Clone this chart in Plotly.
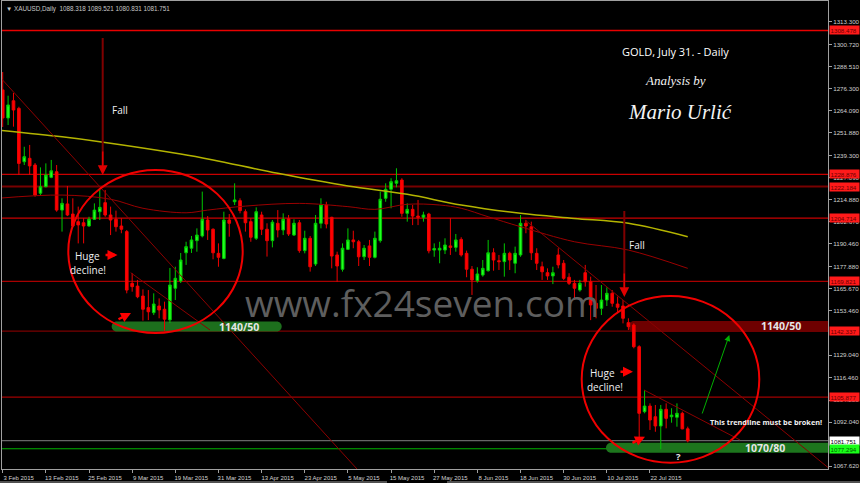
import plotly.graph_objects as go

# ---------------- data ----------------
tick_idx = [0, 8, 16, 24, 32, 40, 48, 56, 64, 72, 80, 88, 96, 104, 112, 120]
tick_labels = ["3 Feb 2015", "13 Feb 2015", "25 Feb 2015", "9 Mar 2015", "19 Mar 2015",
               "31 Mar 2015", "13 Apr 2015", "23 Apr 2015", "5 May 2015", "15 May 2015",
               "27 May 2015", "8 Jun 2015", "18 Jun 2015", "30 Jun 2015", "10 Jul 2015",
               "22 Jul 2015"]

opens = [1275.6, 1260.1, 1269.6, 1265.4, 1235.9, 1237.8, 1234.1, 1218.5, 1222.1, 1227.3,
         1230.4, 1209.2, 1212.6, 1207.0, 1202.8, 1202.2, 1200.4, 1204.1, 1208.3, 1213.3,
         1206.5, 1204.1, 1200.4, 1197.3, 1168.7, 1167.2, 1161.7, 1155.3, 1152.5, 1156.2,
         1154.4, 1148.5, 1166.0, 1170.0, 1185.6, 1188.1, 1192.3, 1194.9, 1203.7, 1198.6,
         1185.3, 1182.5, 1203.7, 1213.8, 1214.4, 1208.3, 1202.8, 1193.6, 1206.5, 1198.6,
         1192.3, 1201.9, 1198.2, 1204.4, 1195.4, 1202.2, 1186.8, 1193.6, 1179.4, 1201.9,
         1212.0, 1205.2, 1184.4, 1176.5, 1187.5, 1192.7, 1191.7, 1183.4, 1189.4, 1183.1,
         1192.3, 1215.7, 1220.7, 1224.0, 1225.8, 1207.4, 1209.6, 1205.9, 1205.2, 1207.0,
         1187.1, 1187.1, 1187.1, 1189.4, 1188.6, 1193.0, 1185.3, 1176.5, 1170.2, 1173.3,
         1175.7, 1185.6, 1181.2, 1180.7, 1185.3, 1179.8, 1184.4, 1201.9, 1200.0, 1185.3,
         1177.9, 1174.6, 1172.8, 1184.4, 1179.8, 1172.1, 1168.7, 1165.0, 1174.6, 1169.6,
         1157.7, 1154.9, 1159.5, 1163.2, 1157.3, 1156.2, 1147.0, 1145.7, 1133.7, 1097.8,
         1100.9, 1095.0, 1089.9, 1099.1, 1095.0, 1094.7, 1096.9, 1088.318]
highs = [1285.5, 1272.4, 1273.9, 1266.3, 1244.2, 1245.2, 1235.2, 1232.8, 1235.0, 1236.9,
         1234.1, 1215.7, 1222.5, 1215.7, 1211.1, 1204.7, 1205.5, 1212.9, 1220.3, 1220.3,
         1211.1, 1208.9, 1204.7, 1198.2, 1174.3, 1170.6, 1165.4, 1165.0, 1163.2, 1160.4,
         1158.6, 1177.2, 1177.9, 1185.5, 1191.7, 1194.9, 1199.1, 1219.4, 1205.9, 1199.1,
         1190.8, 1208.3, 1207.0, 1224.0, 1215.7, 1209.6, 1204.7, 1210.7, 1208.3, 1201.9,
         1203.7, 1209.2, 1207.4, 1206.5, 1204.1, 1203.7, 1197.8, 1194.9, 1206.5, 1215.7,
         1213.8, 1205.5, 1186.2, 1190.8, 1199.1, 1197.8, 1192.7, 1189.9, 1192.7, 1197.3,
         1219.4, 1224.0, 1226.8, 1232.3, 1226.8, 1212.9, 1212.0, 1214.8, 1208.3, 1207.7,
         1190.8, 1191.7, 1193.6, 1204.7, 1196.0, 1194.2, 1186.8, 1178.3, 1177.6, 1181.6,
         1192.7, 1188.1, 1184.4, 1190.8, 1186.2, 1189.0, 1206.5, 1203.7, 1202.8, 1188.1,
         1180.7, 1177.0, 1177.9, 1188.1, 1181.6, 1174.3, 1170.6, 1170.6, 1178.9, 1172.4,
         1167.8, 1167.8, 1166.5, 1165.0, 1161.4, 1159.5, 1149.4, 1146.6, 1134.5, 1109.8,
         1102.4, 1101.5, 1101.5, 1102.4, 1099.7, 1102.4, 1097.8, 1089.521]
lows = [1255.1, 1256.2, 1255.3, 1228.6, 1234.1, 1228.6, 1216.6, 1217.5, 1221.8, 1226.8,
        1208.3, 1197.3, 1205.9, 1200.0, 1190.8, 1190.8, 1200.0, 1203.7, 1203.7, 1205.5,
        1195.4, 1197.3, 1196.4, 1163.2, 1164.1, 1160.5, 1148.1, 1148.4, 1151.2, 1149.4,
        1142.5, 1146.8, 1159.5, 1168.9, 1178.9, 1185.5, 1186.2, 1194.1, 1192.7, 1182.0,
        1177.9, 1182.0, 1194.5, 1212.0, 1207.4, 1197.3, 1191.7, 1192.7, 1195.4, 1183.5,
        1188.6, 1194.1, 1195.4, 1194.9, 1194.9, 1185.6, 1185.3, 1175.2, 1178.3, 1199.1,
        1199.1, 1177.0, 1169.6, 1175.2, 1187.1, 1188.1, 1178.3, 1181.6, 1178.3, 1182.5,
        1191.2, 1213.8, 1210.2, 1221.8, 1205.5, 1202.8, 1200.9, 1200.9, 1202.8, 1185.3,
        1183.4, 1179.8, 1184.9, 1184.4, 1186.2, 1183.5, 1172.1, 1162.3, 1169.1, 1172.4,
        1175.2, 1175.7, 1176.1, 1172.4, 1176.1, 1174.3, 1183.4, 1196.4, 1181.6, 1176.1,
        1170.6, 1170.6, 1168.3, 1177.0, 1170.6, 1167.8, 1159.5, 1164.1, 1166.9, 1148.4,
        1149.4, 1151.2, 1156.2, 1155.8, 1152.2, 1146.6, 1142.9, 1132.8, 1082.1, 1096.9,
        1087.7, 1086.7, 1077.0, 1088.6, 1091.7, 1089.5, 1088.1, 1080.831]
closes = [1260.1, 1267.3, 1264.5, 1235.0, 1238.7, 1233.6, 1217.5, 1222.1, 1228.6, 1230.9,
          1209.2, 1212.9, 1206.5, 1200.4, 1201.0, 1200.4, 1204.1, 1209.2, 1210.7, 1206.5,
          1203.7, 1200.0, 1198.6, 1165.0, 1166.9, 1161.3, 1154.4, 1153.0, 1157.3, 1154.0,
          1148.9, 1167.8, 1171.5, 1181.6, 1189.0, 1192.7, 1195.4, 1204.1, 1198.2, 1185.6,
          1183.1, 1203.7, 1201.9, 1214.8, 1208.9, 1202.2, 1194.2, 1208.3, 1198.6, 1192.3,
          1202.5, 1198.2, 1204.1, 1196.0, 1201.9, 1186.8, 1193.6, 1177.9, 1201.9, 1212.0,
          1201.5, 1183.8, 1178.3, 1188.1, 1192.7, 1191.7, 1183.4, 1188.1, 1183.1, 1193.6,
          1215.2, 1220.7, 1224.9, 1225.4, 1207.4, 1209.6, 1205.9, 1205.2, 1206.5, 1186.7,
          1187.9, 1188.1, 1189.9, 1188.6, 1192.7, 1184.4, 1176.5, 1170.6, 1173.9, 1177.0,
          1185.6, 1181.6, 1180.7, 1185.3, 1181.6, 1185.3, 1201.9, 1200.4, 1185.6, 1179.8,
          1175.1, 1172.8, 1174.6, 1178.9, 1171.5, 1168.7, 1166.0, 1168.7, 1169.6, 1156.8,
          1154.9, 1159.5, 1163.2, 1157.7, 1155.5, 1149.4, 1144.8, 1133.7, 1096.9, 1100.9,
          1093.2, 1089.9, 1099.1, 1094.1, 1095.9, 1096.9, 1088.3, 1081.751]

# slow moving average (yellow), read at bar indices
ma_slow_idx = [-1, 11, 18, 33, 39, 51, 64, 75, 85, 96, 106, 116, 127]
ma_slow_val = [1253.5, 1249.7, 1247.0, 1240.2, 1236.9, 1229.5, 1222.5, 1217.9, 1212.0,
               1207.4, 1204.6, 1201.9, 1194.5]
# faster moving average (dark red)
ma_fast_idx = [-1, 11, 20, 26, 34, 38, 45, 55, 64, 69, 75, 81, 85, 90, 96, 106, 116, 127]
ma_fast_val = [1215.7, 1217.5, 1215.2, 1210.2, 1207.7, 1209.2, 1211.4, 1212.9, 1211.1,
               1209.6, 1212.4, 1212.0, 1210.2, 1205.5, 1200.0, 1191.7, 1187.1, 1177.0]

# horizontal levels
level_prices = [1308.478, 1228.876, 1222.184, 1204.714, 1169.821, 1142.337, 1105.877,
                1081.751, 1077.294]
level_colors = ["#e80000", "#c80000", "#780000", "#c80000", "#a80000", "#7a0000",
                "#a00000", "#808080", "#00b400"]
level_widths = [1.5, 1.2, 2, 1.2, 1.2, 1.2, 1.2, 1, 1]
level_box_bg = ["#ff1a1a"] * 7 + ["#ffffff", "#19ff19"]
level_box_fg = ["#6a0000"] * 7 + ["#000000", "#006000"]

# y axis tick values (MetaTrader scale)
ytick_vals = [1313.300, 1300.720, 1288.510, 1276.300, 1264.090, 1251.880, 1239.300,
              1227.090, 1214.880, 1202.670, 1190.460, 1177.880, 1165.670, 1153.460,
              1129.040, 1116.460, 1104.250, 1092.040, 1067.620]

# ---------------- geometry helpers (pixel -> axis coords, decorations only) --------
W, H = 860, 483
ML, MR, MT, MB = 2, 32, 1, 14
BAR0_PX, BAR_STEP = 2.7, 5.394
PRICE0, PRICE_PER_PX = 1325.29, 0.5526


def X(px):
    return (px - BAR0_PX) / BAR_STEP


def Y(py):
    return PRICE0 - PRICE_PER_PX * py


x_range = [X(ML), X(W - MR)]
y_range = [Y(H - MB), Y(MT)]

bars = list(range(len(opens)))

fig = go.Figure()

fig.add_trace(go.Candlestick(
    x=bars, open=opens, high=highs, low=lows, close=closes,
    increasing=dict(line=dict(color="#00c800", width=1), fillcolor="#22ff22"),
    decreasing=dict(line=dict(color="#ee0000", width=1), fillcolor="#ff0000"),
    whiskerwidth=0, hoverinfo="skip", showlegend=False,
))

fig.add_trace(go.Scatter(x=ma_slow_idx, y=ma_slow_val, mode="lines",
                         line=dict(color="#b4b400", width=1.5, shape="spline"),
                         hoverinfo="skip", showlegend=False))
fig.add_trace(go.Scatter(x=ma_fast_idx, y=ma_fast_val, mode="lines",
                         line=dict(color="#9a0000", width=1, shape="spline"),
                         hoverinfo="skip", showlegend=False))

shapes = []
# horizontal levels
for p, c, w in zip(level_prices, level_colors, level_widths):
    shapes.append(dict(type="line", xref="paper", x0=0, x1=1, yref="y", y0=p, y1=p,
                       line=dict(color=c, width=w), layer="below"))


def pill(x0, x1, y0, y1, color):
    r = (y1 - y0) / 2.0
    k = 0.5523 * r
    ym = (y0 + y1) / 2.0
    pts = (f"M {X(x0 + r)},{Y(y0)} L {X(x1 - r)},{Y(y0)} "
           f"C {X(x1 - r + k)},{Y(y0)} {X(x1)},{Y(ym - k)} {X(x1)},{Y(ym)} "
           f"C {X(x1)},{Y(ym + k)} {X(x1 - r + k)},{Y(y1)} {X(x1 - r)},{Y(y1)} "
           f"L {X(x0 + r)},{Y(y1)} "
           f"C {X(x0 + r - k)},{Y(y1)} {X(x0)},{Y(ym + k)} {X(x0)},{Y(ym)} "
           f"C {X(x0)},{Y(ym - k)} {X(x0 + r - k)},{Y(y0)} {X(x0 + r)},{Y(y0)} Z")
    return dict(type="path", path=pts, xref="x", yref="y", fillcolor=color,
                line=dict(width=0), layer="below")


shapes.append(pill(111.7, 281.7, 321.5, 331.5, "#1d6f1d"))
shapes.append(pill(628.5, 836, 321, 332, "#6e0000"))
shapes.append(pill(606, 836, 442.7, 452.7, "#1d751d"))


def seg(x0, y0, x1, y1, color, width=1):
    return dict(type="line", xref="x", yref="y", x0=X(x0), y0=Y(y0), x1=X(x1), y1=Y(y1),
                line=dict(color=color, width=width))


# trend lines
shapes.append(seg(1.7, 79, 357, 469, "#8c0000"))
shapes.append(seg(525, 220, 828, 467.5, "#8c0000"))
shapes.append(seg(130.7, 272.7, 210, 330, "#8c0000"))
shapes.append(seg(644, 390, 740, 440, "#8c0000"))
# fall arrow shafts
shapes.append(seg(102.7, 38, 102.7, 165, "#800000", 2))
shapes.append(seg(624.3, 211, 624.3, 287, "#800000", 2))
# circles
shapes.append(dict(type="circle", xref="x", yref="y", x0=X(68.3), x1=X(242.7),
                   y0=Y(333), y1=Y(170), line=dict(color="#f00000", width=2)))
shapes.append(dict(type="circle", xref="x", yref="y", x0=X(581.7), x1=X(759.3),
                   y0=Y(462.7), y1=Y(296), line=dict(color="#f00000", width=2)))
# bottom window edge
edge_y = -(482 - (H - MB)) / (H - MB - MT)
shapes.append(dict(type="line", xref="paper", yref="paper",
                   x0=(0 - ML) / (W - ML - MR), x1=(387 - ML) / (W - ML - MR),
                   y0=edge_y, y1=edge_y, line=dict(color="#a0a0a0", width=1)))
shapes.append(dict(type="line", xref="paper", yref="paper",
                   x0=(447 - ML) / (W - ML - MR), x1=(860 - ML) / (W - ML - MR),
                   y0=edge_y, y1=edge_y, line=dict(color="#a0a0a0", width=1)))

ann = []


def text(px, py, s, size, color="#f0f0f0", family="Open Sans", weight="normal",
         style="normal", xanchor="center"):
    ann.append(dict(x=X(px), y=Y(py), xref="x", yref="y", text=s, showarrow=False,
                    xanchor=xanchor, yanchor="middle",
                    font=dict(size=size, color=color, family=family, weight=weight,
                              style=style)))


def arrow(tx, ty, hx, hy, color, width=1.5, head=2, size=1.0):
    ann.append(dict(x=X(hx), y=Y(hy), ax=X(tx), ay=Y(ty), xref="x", yref="y",
                    axref="x", ayref="y", text="", showarrow=True, arrowhead=head,
                    arrowsize=size, arrowwidth=width, arrowcolor=color, standoff=0))


# fall arrowheads
arrow(102.7, 150, 102.7, 175, "#e00000", 1.5, 2, 1.3)
arrow(624.3, 272, 624.3, 297, "#e00000", 1.5, 2, 1.3)
# huge decline arrows
arrow(104, 255, 117.5, 255, "#ff0000", 2.5, 2, 0.8)
arrow(117, 320, 131, 313, "#ff0000", 2.5, 2, 0.8)
arrow(619, 371.7, 633, 371.7, "#ff0000", 2.5, 2, 0.8)
arrow(631, 443.5, 645, 436.7, "#ff0000", 2.5, 2, 0.8)
# green breakout arrow
arrow(701.7, 415, 729.3, 335, "#00b000", 1, 2, 1.2)

text(120, 110, "Fall", 10)
text(637, 245, "Fall", 10)
text(87.7, 256, "Huge", 10)
text(88.3, 270, "decline!", 10)
text(602.5, 372.7, "Huge", 10)
text(605, 387.3, "decline!", 10)
text(239, 326.7, "1140/50", 10.5, "#e6e6e6", weight="bold")
text(780.7, 326.3, "1140/50", 10.5, "#e6e6e6", weight="bold")
text(765, 447.5, "1070/80", 10.5, "#e6e6e6", weight="bold")
text(765.7, 421.7, "This trendline must be broken!", 7.3, "#f0f0f0", weight="bold")
text(678.3, 456.7, "?", 9.5, "#e6e6e6", weight="bold")
text(422, 302, "www.fx24seven.com", 37, "#5e5e5e")
text(675, 51.7, "GOLD, July 31. - Daily", 11, "#ffffff")
text(675, 80, "Analysis by", 13, "#f4f4f4", family="Liberation Serif", style="italic")
text(680, 111.7, "Mario Urlić", 21, "#f4f4f4", family="Liberation Serif", style="italic")

# header
ann.append(dict(x=0, y=1, xref="paper", yref="paper", xshift=2, yshift=-2,
                text="▼ XAUUSD,Daily  1088.318 1089.521 1080.831 1081.751",
                showarrow=False, xanchor="left", yanchor="top",
                font=dict(size=6.3, color="#c8c8c8", family="Liberation Sans")))

# price boxes on the right axis
for p, bg, fg in zip(level_prices, level_box_bg, level_box_fg):
    ann.append(dict(x=1, y=p, xref="paper", yref="y", xanchor="left", yanchor="middle",
                    xshift=1, text=f"{p:.3f}", showarrow=False, bgcolor=bg,
                    borderpad=0.5, width=28, align="left",
                    font=dict(size=6.2, color=fg, family="Liberation Sans")))

fig.update_layout(
    width=W, height=H,
    margin=dict(l=ML, r=MR, t=MT, b=MB),
    paper_bgcolor="#000000", plot_bgcolor="#000000",
    showlegend=False, shapes=shapes, annotations=ann,
    xaxis=dict(range=x_range, showgrid=False, zeroline=False, rangeslider=dict(visible=False),
               tickmode="array", tickvals=tick_idx, ticktext=tick_labels,
               ticks="outside", ticklen=3, tickcolor="#a0a0a0",
               tickfont=dict(size=6, color="#d0d0d0", family="Liberation Sans"),
               ticklabelshift=16, ticklabelstandoff=0,
               showline=True, linecolor="#a0a0a0", linewidth=1, mirror=True),
    yaxis=dict(range=y_range, side="right", showgrid=False, zeroline=False,
               tickmode="array", tickvals=ytick_vals,
               ticktext=[f"{v:.3f}" for v in ytick_vals],
               ticks="outside", ticklen=3, tickcolor="#a0a0a0",
               tickfont=dict(size=6.2, color="#d0d0d0", family="Liberation Sans"),
               showline=True, linecolor="#a0a0a0", linewidth=1, mirror=True),
)

fig.write_html("out.html",
               config={"displayModeBar": False, "staticPlot": True},
               post_script="document.body.style.margin='0';"
                           "document.body.style.overflow='hidden';"
                           "document.body.style.background='#000';")
